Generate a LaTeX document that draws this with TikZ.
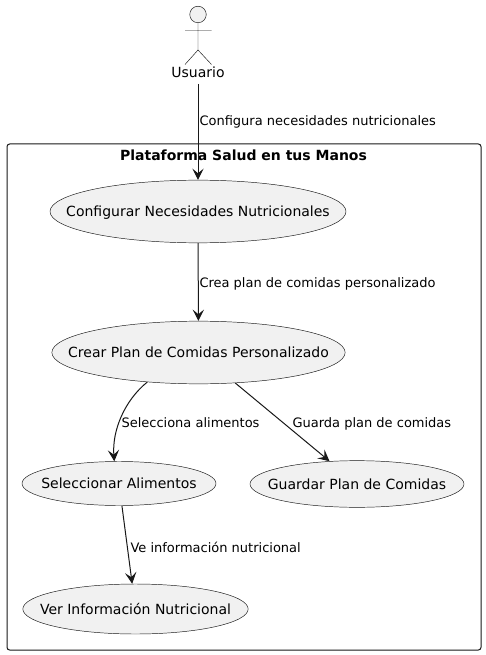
\documentclass[tikz,border=0pt]{standalone}
\usepackage{fontspec}
\setmainfont{DejaVu Sans}
\usetikzlibrary{arrows.meta,shapes.geometric}

\definecolor{usefill}{HTML}{F1F1F1}
\definecolor{useline}{HTML}{181818}

\tikzset{
  usecase/.style={ellipse,draw=useline,line width=.35pt,fill=usefill,inner sep=0pt,
    label={[text=black,inner sep=0pt,font=\fontsize{10.5}{12}\selectfont,text height=8pt,text depth=2pt,yshift=-1pt]center:#1}},
  actorline/.style={draw=useline,line width=.35pt},
  lbl/.style={anchor=west,inner sep=0pt,font=\fontsize{9.75}{12}\selectfont,
    text height=7.5pt,text depth=2pt,text=black}
}

\begin{document}
\begin{tikzpicture}[x=.75pt,y=-.75pt,->,>={Stealth[length=8.5pt,width=8.5pt,inset=3.5pt]},
        line width=.75pt,color=useline]

  \useasboundingbox (0,0) rectangle (485,655);

  \draw[-,rounded corners=2pt,line width=.75pt] (7,144) rectangle (481,650);
  \node[inner sep=0pt,text=black,font=\fontsize{10.5}{12}\selectfont\bfseries] (title) at (243.5,155.5) {Plataforma Salud en tus Manos};

  % actor
  \node[circle,actorline,fill=usefill,inner sep=0pt,minimum size=12.4pt] (head) at (198,14.5) {};
  \coordinate (hip) at (198,50);
  \coordinate (armL) at (185,30.5);
  \coordinate (armR) at (211.5,30.5);
  \coordinate (footL) at (185,64.5);
  \coordinate (footR) at (211.5,64.5);
  \draw[-,actorline] (head) -- (hip) -- (footL) (hip) -- (footR) (armL) -- (armR);
  \node[inner sep=0pt,text=black,font=\fontsize{10.5}{12}\selectfont,text height=8pt,text depth=2pt,outer ysep=2.5pt] (usuario) at (198,74) {Usuario};

  \node[usecase={Configurar Necesidades Nutricionales},minimum width=222pt,minimum height=47pt] (config) at (198,211.5) {};
  \node[usecase={Crear Plan de Comidas Personalizado},minimum width=220pt,minimum height=47pt] (crear) at (198.5,352.5) {};
  \node[usecase={Seleccionar Alimentos},minimum width=145.5pt,minimum height=33pt] (selec) at (119,483.5) {};
  \node[usecase={Guardar Plan de Comidas},minimum width=160.5pt,minimum height=35pt] (guardar) at (357,484) {};
  \node[usecase={Ver Información Nutricional},minimum width=169pt,minimum height=37.5pt] (ver) at (135.5,609) {};

  \path (usuario) edge (config)
        (config) edge (crear)
        (crear) edge (guardar)
        (selec) edge (ver);
  \draw (crear.210) .. controls (125,400) and (112,430) .. (selec.102);

  \node[lbl] (lblconfig) at (199,121.5) {Configura necesidades nutricionales};
  \node[lbl] (lblcrea) at (199,283.5) {Crea plan de comidas personalizado};
  \node[lbl] (lblselec) at (121,423.5) {Selecciona alimentos};
  \node[lbl] (lblguarda) at (292,423.5) {Guarda plan de comidas};
  \node[lbl] (lblver) at (130,548.5) {Ve información nutricional};

\end{tikzpicture}
\end{document}
